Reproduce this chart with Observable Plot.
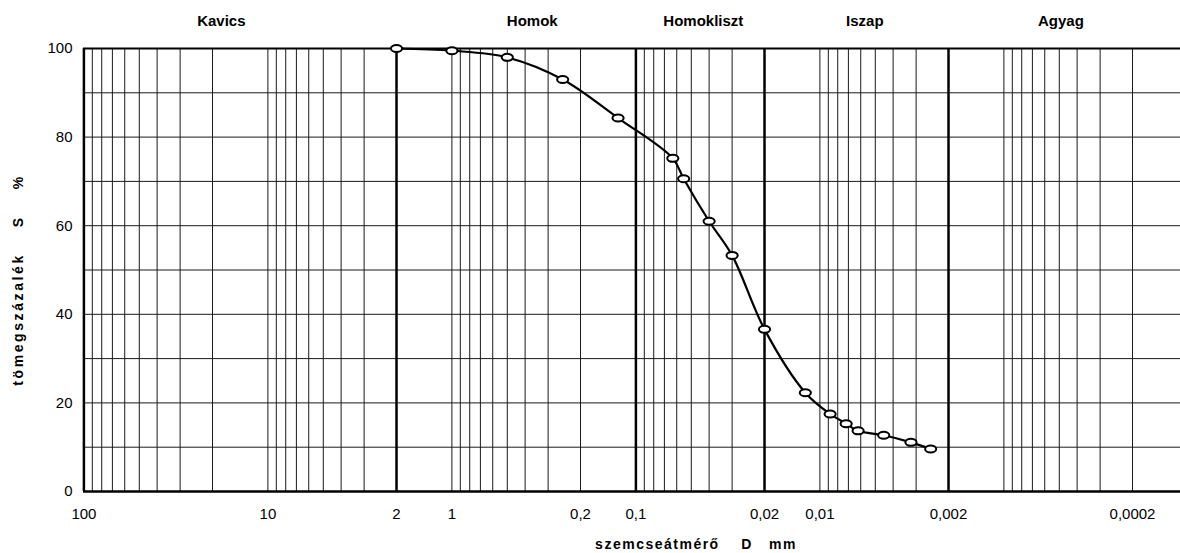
<!DOCTYPE html>
<html>
<head>
<meta charset="utf-8">
<script src="https://cdn.jsdelivr.net/npm/d3@7"></script>
<script src="https://cdn.jsdelivr.net/npm/@observablehq/plot@0.6"></script>
<style>
  html, body { margin: 0; padding: 0; background: #fff; }
  #chart svg { display: block; }
</style>
</head>
<body>
<div id="chart"></div>
<script>
// ---- data ----
const grainSize = [2, 1, 0.5, 0.25, 0.125, 0.063, 0.055, 0.04, 0.03, 0.02, 0.012, 0.0088, 0.0072, 0.0062, 0.0045, 0.0032, 0.0025];
const passing   = [100, 99.5, 98, 93, 84.3, 75.2, 70.6, 61, 53.3, 36.6, 22.3, 17.5, 15.3, 13.7, 12.7, 11.1, 9.6];

const xTickValues = [100, 10, 2, 1, 0.2, 0.1, 0.02, 0.01, 0.002, 0.0002];
const xTickLabels = ["100", "10", "2", "1", "0,2", "0,1", "0,02", "0,01", "0,002", "0,0002"];
const yTickValues = [0, 20, 40, 60, 80, 100];

const classNames = ["Kavics", "Homok", "Homokliszt", "Iszap", "Agyag"];
const classLabelAt = [17.9, 0.366, 0.043, 0.0057, 0.00049];
const classBoundaries = [2, 0.1, 0.02, 0.002];

const xTitle = "szemcseátmérő    D   mm";
const yTitle = "tömegszázalék    S    %";

// ---- derived ----
const points = grainSize.map((d, i) => ({size: d, pct: passing[i]}));
const classes = classNames.map((n, i) => ({name: n, at: classLabelAt[i]}));
const labelMap = new Map(xTickValues.map((v, i) => [v, xTickLabels[i]]));
const minorX = [];
for (let e = 2; e >= -4; e--) for (let k = 1; k <= 9; k++) {
  const v = k * Math.pow(10, e - 1);
  if (v <= 100 && v >= 0.0001) minorX.push(v);
}
const gridY = d3.range(10, 100, 10);

// ellipse marker symbol
const ellipse = {
  draw(ctx) {
    const rx = 5.6, ry = 3.5, k = 0.5523;
    ctx.moveTo(rx, 0);
    ctx.bezierCurveTo(rx, k * ry, k * rx, ry, 0, ry);
    ctx.bezierCurveTo(-k * rx, ry, -rx, k * ry, -rx, 0);
    ctx.bezierCurveTo(-rx, -k * ry, -k * rx, -ry, 0, -ry);
    ctx.bezierCurveTo(k * rx, -ry, rx, -k * ry, rx, 0);
    ctx.closePath();
  }
};

const chart = Plot.plot({
  width: 1180,
  height: 553,
  marginLeft: 83,
  marginRight: 0,
  marginTop: 48,
  marginBottom: 62,
  style: {fontFamily: "'Liberation Sans', Arial, sans-serif", fontSize: "15px", color: "#000", background: "#fff"},
  x: {type: "log", domain: [100, 0.0001], range: [83.4, 1187.4]},
  y: {domain: [0, 100], range: [491, 48]},
  marks: [
    Plot.ruleX(minorX, {stroke: "#1a1a1a", strokeWidth: 1}),
    Plot.ruleY(gridY, {stroke: "#1a1a1a", strokeWidth: 1}),
    Plot.ruleX(classBoundaries, {stroke: "#000", strokeWidth: 2.5}),
    Plot.ruleX([100], {stroke: "#000", strokeWidth: 2.5}),
    Plot.ruleY([0], {stroke: "#000", strokeWidth: 2.5}),
    Plot.ruleY([100], {stroke: "#000", strokeWidth: 2}),
    Plot.axisY(yTickValues, {tickSize: 0, tickPadding: 11, fontSize: 15, label: null}),
    Plot.axisX(xTickValues, {tickSize: 0, tickPadding: 17, fontSize: 15, label: null, tickFormat: d => labelMap.get(d)}),
    Plot.line(points, {x: "size", y: "pct", stroke: "#000", strokeWidth: 2.2, curve: "catmull-rom"}),
    Plot.dot(points, {x: "size", y: "pct", symbol: ellipse, r: 4, fill: "#fff", stroke: "#000", strokeWidth: 2}),
    Plot.text(classes, {x: "at", y: () => 100, text: "name", dy: -27, fontWeight: "bold", fontSize: 15, textAnchor: "middle", lineAnchor: "middle"}),
    Plot.text([xTitle], {frameAnchor: "bottom", dx: 64, dy: 53, fontWeight: "bold", fontSize: 14, lineAnchor: "middle", textAnchor: "middle"}),
    Plot.text([yTitle], {frameAnchor: "left", dx: -65, dy: 10, rotate: -90, fontWeight: "bold", fontSize: 14, lineAnchor: "middle", textAnchor: "middle"})
  ]
});
document.getElementById("chart").appendChild(chart);
// preserve spacing in titles
const texts = d3.select(chart).selectAll("text").style("white-space", "pre");
texts.filter(function(){ return this.textContent === xTitle; }).style("letter-spacing", "1.5px");
texts.filter(function(){ return this.textContent === yTitle; }).style("letter-spacing", "2.6px");
</script>
</body>
</html>
